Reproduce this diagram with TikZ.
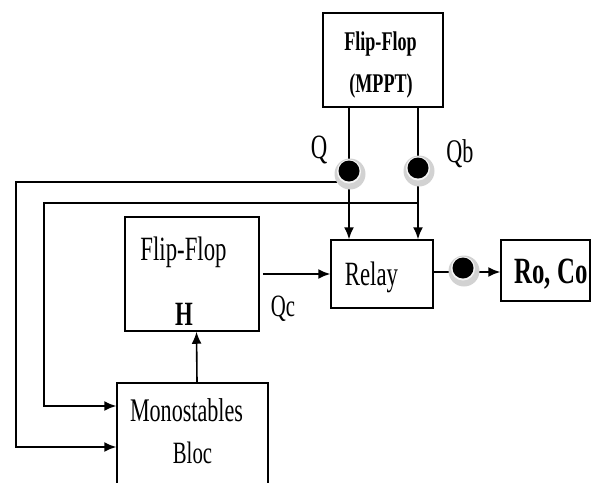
\documentclass[tikz,border=0pt]{standalone}
\usepackage{fontspec}
\setmainfont[FakeStretch=0.67]{Liberation Serif}
\usetikzlibrary{arrows.meta}
\begin{document}
\begin{tikzpicture}[x=1pt,y=-1pt,
  box/.style={draw=black, line width=1.5pt, inner sep=0pt, rectangle},
  txt/.style={inner sep=0pt, anchor=base},
  conn/.style={line width=1.6pt},
  arr/.style={conn, -{Latex[length=12pt,width=10pt]}},
  dotn/.style={circle, fill=black, inner sep=0pt, minimum size=21pt},
  halo/.style={fill=gray!35},
  ring/.style={fill=white!92!gray}]
\useasboundingbox (0,0) rectangle (594,482);
\clip (0,0) rectangle (594,482);

% boxes
\node[box, minimum width=120pt, minimum height=94pt] (mppt) at (383,60) {};
\node[box, minimum width=102pt, minimum height=68pt] (relay) at (382,274) {};
\node[box, minimum width=89pt, minimum height=61pt] (roco) at (545.5,270.5) {};
\node[box, minimum width=134pt, minimum height=114pt] (ffh) at (192,274) {};
\node[box, minimum width=151pt, minimum height=137pt] (mono) at (192.5,451.5) {};

% texts
\node[txt] (t1) at (380.5,50) {\fontsize{27}{30}\selectfont\bfseries Flip-Flop};
\node[txt] (t2) at (381,92) {\fontsize{27}{30}\selectfont\bfseries (MPPT)};
\node[txt] (t3) at (183.5,260) {\fontsize{34}{38}\selectfont Flip-Flop};
\node[txt] (t4) at (184,325) {\fontsize{34}{38}\selectfont\bfseries H};
\node[txt] (t5) at (371.5,285) {\fontsize{34}{38}\selectfont Relay};
\node[txt] (t6) at (551,283) {\fontsize{37}{40}\selectfont\bfseries Ro, Co};
\node[txt] (t7) at (186.5,421) {\fontsize{33}{36}\selectfont Monostables};
\node[txt] (t8) at (192.5,463) {\fontsize{31}{34}\selectfont Bloc};
\node[txt] (lq) at (319,158) {\fontsize{34}{38}\selectfont Q};
\node[txt] (lqb) at (460,162) {\fontsize{33}{36}\selectfont Qb};
\node[txt] (lqc) at (283,316) {\fontsize{31}{34}\selectfont Qc};

% connectors
\coordinate (lo) at (16,0);
\coordinate (li) at (44,203);
\coordinate (cq) at (349,171);
\coordinate (cqb) at (418,168);
\coordinate (cout) at (463,268);
\draw[conn] (cq |- mppt.south) -- (cq);
\draw[conn] (cqb |- mppt.south) -- (cqb);
\draw[arr] (cq) -- (cq |- relay.north);
\draw[arr] (cqb) -- (cqb |- relay.north);
\draw[arr] ([yshift=-11pt]cq) -- ([yshift=-11pt]cq -| lo) |- ([yshift=4.5pt]mono.west);
\draw[arr] (cqb |- li) -- (li) |- ([yshift=45.5pt]mono.west);
\draw[arr] ([xshift=4.5pt]mono.north) -- ([xshift=4.5pt]ffh.south);
\draw[arr, shorten <=3pt] (ffh.east) -- (relay.west);
\draw[conn] ([yshift=-4pt]cout -| relay.east) -- ([yshift=-4pt]cout);
\draw[arr] ([yshift=-4pt]cout) -- ([yshift=-4pt]cout -| roco.west);

% dot halos
\foreach \c in {cq,cqb,cout}{
  \fill[halo] ([shift={(1pt,-3pt)}]\c) circle[radius=15.5pt];
  \fill[ring] ([shift={(0pt,-0.5pt)}]\c) circle[radius=12pt];
}
% dots
\node[dotn] (dq) at (cq) {};
\node[dotn] (dqb) at (cqb) {};
\node[dotn] (dout) at (cout) {};
\end{tikzpicture}
\end{document}
